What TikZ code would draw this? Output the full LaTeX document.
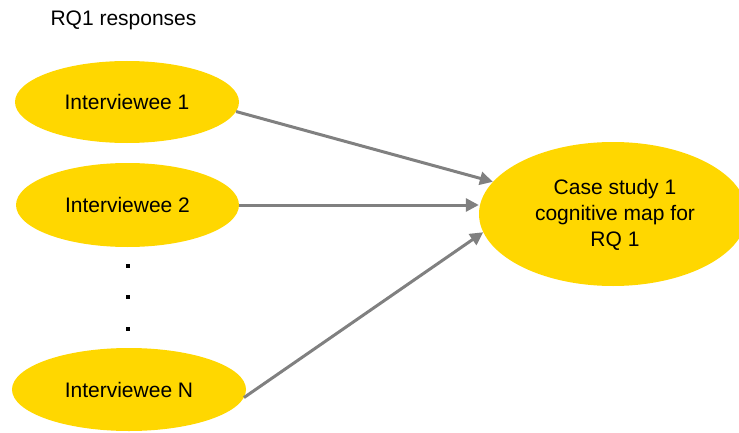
\documentclass[tikz,border=0pt]{standalone}
\usepackage{fontspec}
\setmainfont{Liberation Sans}
\usetikzlibrary{shapes.geometric,arrows.meta}
\definecolor{bubble}{RGB}{255,215,0}
\definecolor{link}{RGB}{128,128,128}
\begin{document}
\begin{tikzpicture}[x=1pt,y=1pt,
  txt/.style={font=\fontsize{21}{26}\selectfont, text=black},
  bubblenode/.style={ellipse, fill=bubble, draw=none, inner sep=0pt, txt},
  arr/.style={draw=link, line width=3pt, -{Triangle[length=13pt,width=13pt]}},
  dot/.style={fill=black, minimum size=4pt, inner sep=0pt}]
\useasboundingbox (0,0) rectangle (739,432);
% heading
\node[txt] (title) at (123.5,412) {RQ1 responses};
% interviewee bubbles
\node[bubblenode, minimum width=224pt, minimum height=82pt] (i1) at (127,330) {Interviewee 1};
\node[bubblenode, minimum width=223pt, minimum height=84pt] (i2) at (127.5,227) {Interviewee 2};
\node[bubblenode, minimum width=234pt, minimum height=83pt] (iN) at (129,42.5) {Interviewee N};
% vertical ellipsis between bubbles
\node[dot] (d1) at (128,166) {};
\node[dot] (d2) at (128,135) {};
\node[dot] (d3) at (128,103) {};
% cognitive map bubble
\node[bubblenode, minimum width=268pt, minimum height=144pt] (cs) at (613,218) {};
\node[txt, align=center] (cstext) at (615,217) {Case study 1\\cognitive map for\\RQ 1};
% connectors
\draw[arr] (i1.-5.6) -- (cs.165.9);
\draw[arr] (i2.east) -- (i2.east -| cs.west);
\draw[arr] (iN.-4.2) -- (cs.188.3);
\end{tikzpicture}
\end{document}
